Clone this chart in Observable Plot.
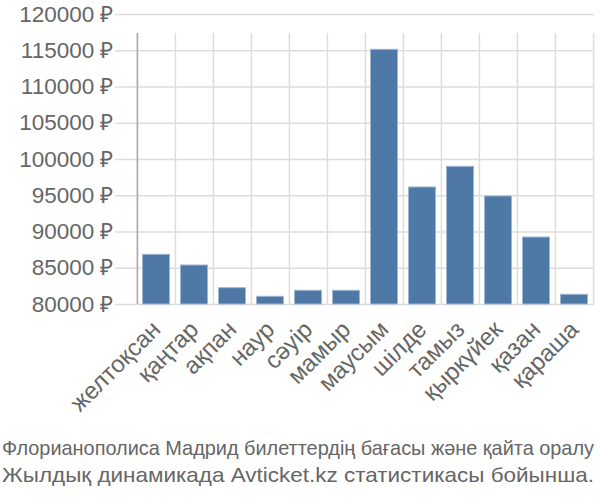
<!DOCTYPE html>
<html>
<head>
<meta charset="utf-8">
<script src="https://cdn.jsdelivr.net/npm/d3@7"></script>
<script src="https://cdn.jsdelivr.net/npm/@observablehq/plot@0.6"></script>
<style>
  body { margin: 0; background: #fff; font-family: "Liberation Sans", Arial, sans-serif; }
  #caption { display: block; }
</style>
</head>
<body>
<div id="chart"></div>
<svg id="caption" width="600" height="68"></svg>
<script>
const months = ["желтоқсан", "қаңтар", "ақпан", "наур", "сәуір", "мамыр", "маусым", "шілде", "тамыз", "қыркүйек", "қазан", "қараша"];
const prices = [86850, 85380, 82250, 81060, 81890, 81890, 115130, 96140, 98990, 94900, 89240, 81340];
const yTicks = [80000, 85000, 90000, 95000, 100000, 105000, 110000, 115000, 120000];
const captionLines = [
  "Флорианополиса Мадрид билеттердің бағасы және қайта оралу",
  "Жылдық динамикада Avticket.kz статистикасы бойынша."
];

const data = months.map((m, i) => ({month: m, price: prices[i]}));
const W = 600, H = 432, ML = 136, MR = 6, MT = 14, MB = 128;
const bw = (W - ML - MR) / months.length;

const chart = Plot.plot({
  width: W,
  height: H,
  marginLeft: ML,
  marginRight: MR,
  marginTop: MT,
  marginBottom: MB,
  style: {fontFamily: "'Liberation Sans', Arial, sans-serif", color: "#666", background: "#fff"},
  x: {domain: months, padding: 0, label: null},
  y: {domain: [80000, 120000], label: null},
  marks: [
    Plot.ruleY(yTicks, {y: d => d, stroke: "#ddd", strokeWidth: 1.5, insetLeft: -21}),
    Plot.ruleX(months, {x: d => d, dx: -bw / 2, y1: 80000, y2: 120000, stroke: "#ddd", strokeWidth: 1.5, insetBottom: -19}),
    Plot.ruleX([months[months.length - 1]], {x: d => d, dx: bw / 2, y1: 80000, y2: 120000, stroke: "#ddd", strokeWidth: 1.5, insetBottom: -19}),
    Plot.ruleX([months[0]], {x: d => d, dx: -bw / 2, y1: 80000, y2: 120000, stroke: "#aaa", strokeWidth: 1.5, insetBottom: -19}),
    Plot.barY(data, {x: "month", y1: 80000, y2: "price", fill: "#4e79a7", stroke: "#9fb6d2", strokeWidth: 1, insetLeft: 5.5, insetRight: 5.5}),
    Plot.axisY(yTicks, {tickSize: 0, tickPadding: 23, tickFormat: d => d + " ₽", fontSize: 22.5, fill: "#666", label: null}),
    Plot.axisX({tickSize: 0, tickPadding: 21, tickRotate: -45, fontSize: 24, fill: "#666", label: null})
  ]
});
document.getElementById("chart").appendChild(chart);

const sy = 1.1;
const cap = d3.select("#caption");
cap.selectAll("text").data(captionLines).join("text")
  .attr("transform", `scale(1,${sy})`)
  .attr("x", 2)
  .attr("y", (d, i) => (23 + i * 27) / sy)
  .attr("font-family", "'Liberation Sans', Arial, sans-serif")
  .attr("font-size", 19.2)
  .attr("fill", "#666")
  .attr("textLength", 592)
  .attr("lengthAdjust", "spacingAndGlyphs")
  .text(d => d);
</script>
</body>
</html>
